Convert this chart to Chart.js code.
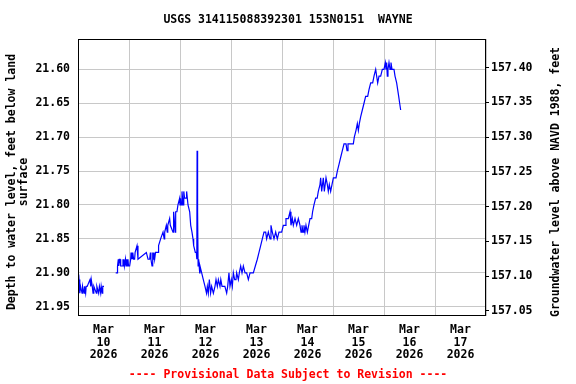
<!DOCTYPE html>
<html><head><meta charset="utf-8">
<script src="https://cdn.jsdelivr.net/npm/chart.js@4.4.1/dist/chart.umd.min.js"></script>
<style>html,body{margin:0;padding:0;background:#fff}canvas{display:block}</style>
</head><body>
<canvas id="c" width="576" height="384"></canvas>
<script>
const titleText = 'USGS 314115088392301 153N0151  WAYNE';
const footerText = '---- Provisional Data Subject to Revision ----';
const leftAxisTitle = ['Depth to water level, feet below land', 'surface'];
const rightAxisTitle = 'Groundwater level above NAVD 1988, feet';
const monthLabel = 'Mar';
const yearLabel = '2026';
const dayLabels = ['10', '11', '12', '13', '14', '15', '16', '17'];
const depthTicks = [21.60, 21.65, 21.70, 21.75, 21.80, 21.85, 21.90, 21.95];
const elevTicks = [157.05, 157.10, 157.15, 157.20, 157.25, 157.30, 157.35, 157.40];

// time in days since Mar 10 2026 00:00, depth in feet below land surface (null = gap)
const times = [
  0.00, 0.02, 0.035, 0.05, 0.08, 0.09, 0.12, 0.13, 0.15, 0.16, 0.18, 0.235, 0.25, 0.26, 0.28,
  0.295, 0.31, 0.36, 0.37, 0.405, 0.42, 0.445, 0.455, 0.475, 0.485, 0.51,
  0.62,
  0.739, 0.771, 0.775, 0.79, 0.80, 0.81, 0.824, 0.837, 0.85, 0.863, 0.882, 0.89, 0.90, 0.91,
  0.92, 0.93, 0.94, 0.95, 0.96, 0.97, 0.98, 0.99, 1.013, 1.033, 1.04, 1.05, 1.06, 1.07, 1.078,
  1.09, 1.11, 1.12, 1.157, 1.176, 1.34, 1.373, 1.405, 1.42, 1.43, 1.451, 1.46, 1.47, 1.48, 1.49,
  1.503, 1.52, 1.569, 1.58, 1.62, 1.667, 1.69, 1.70, 1.732, 1.75, 1.76, 1.797, 1.81, 1.863,
  1.87, 1.88, 1.908, 1.915, 1.94, 1.96, 1.993, 2.00, 2.01, 2.02, 2.039, 2.05, 2.06, 2.07, 2.078,
  2.09, 2.124, 2.13, 2.157, 2.19, 2.21, 2.235, 2.255, 2.268, 2.30, 2.32, 2.330, 2.335, 2.340,
  2.350, 2.355, 2.366, 2.386, 2.392, 2.425, 2.457, 2.49, 2.52, 2.536, 2.555, 2.575, 2.60, 2.62,
  2.654, 2.686, 2.706, 2.732, 2.752, 2.784, 2.80, 2.824, 2.85, 2.88, 2.915, 2.935, 2.96, 2.98,
  3.006, 3.026, 3.046, 3.072, 3.098, 3.111, 3.144, 3.163, 3.19, 3.216, 3.242, 3.275, 3.307, 3.34,
  3.373, 3.438, 3.477, 3.516, 3.549, 3.582, 3.614, 3.647, 3.68, 3.699, 3.732, 3.765, 3.784, 3.81,
  3.843, 3.876, 3.908, 3.941, 3.993, 4.026, 4.059, 4.078, 4.124, 4.157, 4.176, 4.203, 4.222,
  4.255, 4.288, 4.32, 4.353, 4.373, 4.392, 4.412, 4.431, 4.45, 4.47, 4.497, 4.523, 4.549, 4.582,
  4.60, 4.627, 4.66, 4.69, 4.712, 4.745, 4.758, 4.778, 4.81, 4.83, 4.863, 4.889, 4.908, 4.928,
  4.954, 4.98, 5.007, 5.059, 5.085, 5.118, 5.15, 5.183, 5.216, 5.255, 5.275, 5.294, 5.399, 5.418,
  5.451, 5.477, 5.497, 5.516, 5.542, 5.575, 5.608, 5.64, 5.68, 5.706, 5.739, 5.778, 5.804, 5.837,
  5.856, 5.876, 5.902, 5.935, 5.967, 6.0, 6.026, 6.039, 6.052, 6.065, 6.078, 6.098, 6.118, 6.137,
  6.157, 6.196, 6.216, 6.248, 6.268, 6.288, 6.307, 6.327
];
const depths = [
  21.92, 21.91, 21.93, 21.92, 21.93, 21.92, 21.93, 21.92, 21.93, 21.92, 21.92, 21.91, 21.92, 21.91, 21.92,
  21.93, 21.92, 21.93, 21.92, 21.93, 21.92, 21.93, 21.92, 21.93, 21.92, 21.92,
  null,
  21.90, 21.90, 21.89, 21.88, 21.89, 21.88, 21.88, 21.89, 21.89, 21.89, 21.88, 21.89, 21.88, 21.89,
  21.89, 21.88, 21.89, 21.89, 21.88, 21.89, 21.88, 21.89, 21.89, 21.88, 21.87, 21.88, 21.87, 21.88, 21.87,
  21.88, 21.88, 21.87, 21.86, 21.88, 21.87, 21.88, 21.88, 21.87, 21.88, 21.89, 21.88, 21.87, 21.88, 21.87,
  21.88, 21.87, 21.87, 21.86, 21.85, 21.84, 21.85, 21.84, 21.83, 21.84, 21.83, 21.82, 21.83, 21.84,
  21.82, 21.81, 21.84, 21.81, 21.81, 21.80, 21.79, 21.80, 21.79, 21.80, 21.78, 21.79, 21.80, 21.79, 21.78,
  21.79, 21.79, 21.78, 21.80, 21.81, 21.83, 21.84, 21.85, 21.86, 21.87, 21.87, 21.88, 21.72, 21.88,
  21.81, 21.89, 21.88, 21.90, 21.89, 21.90, 21.91, 21.92, 21.93, 21.92, 21.93, 21.91, 21.93, 21.92,
  21.93, 21.92, 21.91, 21.92, 21.91, 21.92, 21.91, 21.92, 21.92, 21.92, 21.93, 21.92, 21.90, 21.92,
  21.91, 21.92, 21.90, 21.91, 21.91, 21.90, 21.91, 21.90, 21.89, 21.90, 21.89, 21.90, 21.90, 21.91,
  21.90, 21.90, 21.89, 21.88, 21.87, 21.86, 21.85, 21.84, 21.84, 21.85, 21.84, 21.85, 21.83, 21.84,
  21.85, 21.84, 21.85, 21.84, 21.84, 21.83, 21.83, 21.82, 21.82, 21.81, 21.83, 21.82, 21.83,
  21.82, 21.83, 21.82, 21.83, 21.84, 21.83, 21.84, 21.83, 21.84, 21.83, 21.84, 21.83, 21.82, 21.82,
  21.81, 21.80, 21.79, 21.79, 21.78, 21.77, 21.76, 21.78, 21.76, 21.78, 21.76, 21.77, 21.78, 21.77,
  21.78, 21.77, 21.76, 21.76, 21.75, 21.74, 21.73, 21.72, 21.71, 21.71, 21.72, 21.71, 21.71, 21.70,
  21.69, 21.68, 21.69, 21.68, 21.67, 21.66, 21.65, 21.64, 21.64, 21.63, 21.62, 21.62, 21.61, 21.60,
  21.61, 21.62, 21.61, 21.61, 21.60, 21.60, 21.59, 21.60, 21.59, 21.61, 21.60, 21.59, 21.60, 21.59,
  21.60, 21.60, 21.61, 21.62, 21.63, 21.64, 21.65, 21.66
];

const FONT = 'DejaVu Sans Mono';
const points = times.map((t, i) => ({ x: t, y: depths[i] }));

const framePlugin = {
  id: 'frame',
  afterDraw(chart) {
    const { ctx, chartArea: a } = chart;
    ctx.save();
    ctx.strokeStyle = '#000';
    ctx.lineWidth = 1;
    ctx.strokeRect(Math.round(a.left) + 0.5, Math.round(a.top) + 0.5,
      Math.round(a.right - a.left) - 1, Math.round(a.bottom - a.top) - 1);
    ctx.fillStyle = '#000';
    ctx.font = 'bold 11.5px "' + FONT + '"';
    ctx.textAlign = 'center';
    ctx.textBaseline = 'middle';
    // left axis title (two lines)
    ctx.save();
    ctx.translate(12, 182);
    ctx.rotate(-Math.PI / 2);
    ctx.fillText(leftAxisTitle[0], 0, 0);
    ctx.fillText(leftAxisTitle[1], 0, 12);
    ctx.restore();
    // right axis title
    ctx.translate(556, 182);
    ctx.rotate(-Math.PI / 2);
    ctx.fillText(rightAxisTitle, 0, 0);
    ctx.restore();
  }
};

new Chart(document.getElementById('c'), {
  type: 'line',
  data: {
    datasets: [{
      data: points,
      borderColor: '#0000ff',
      borderWidth: 1.2,
      pointRadius: 0,
      fill: false,
      spanGaps: false,
      tension: 0,
      yAxisID: 'y'
    }]
  },
  options: {
    responsive: false,
    animation: false,
    events: [],
    layout: { padding: 0 },
    plugins: {
      legend: { display: false },
      tooltip: { enabled: false },
      title: {
        display: true, text: titleText, color: '#000',
        font: { family: FONT, size: 11.5, weight: 'bold', lineHeight: '14px' },
        padding: { top: 13, bottom: 12 }
      },
      subtitle: {
        display: true, position: 'bottom', text: footerText, color: '#ff0000',
        font: { family: FONT, size: 11.5, weight: 'bold', lineHeight: '14px' },
        padding: { top: 4, bottom: 2 }
      }
    },
    scales: {
      x: {
        type: 'linear', position: 'bottom', min: 0, max: 8,
        afterBuildTicks: s => { s.ticks = dayLabels.map((d, i) => ({ value: i + 0.5 })); },
        afterFit: s => { s.height = 48; },
        grid: { display: true, offset: true, color: '#c8c8c8', lineWidth: 1, drawTicks: false },
        border: { display: false },
        ticks: {
          autoSkip: false, maxRotation: 0, minRotation: 0, padding: 8, color: '#000',
          font: { family: FONT, size: 11.5, weight: 'bold', lineHeight: '12.5px' },
          callback: v => [monthLabel, dayLabels[Math.floor(v)], yearLabel]
        }
      },
      y: {
        type: 'linear', position: 'left', reverse: true, min: 21.5553, max: 21.9637,
        afterBuildTicks: s => { s.ticks = depthTicks.map(v => ({ value: v })); },
        afterFit: s => { s.width = 78; },
        grid: { color: '#c8c8c8', lineWidth: 1, drawTicks: false },
        border: { display: false },
        ticks: {
          padding: 8, color: '#000',
          font: { family: FONT, size: 11.5, weight: 'bold' },
          callback: v => Number(v).toFixed(2)
        }
      },
      y2: {
        type: 'linear', position: 'right', min: 157.0428, max: 157.4413,
        afterBuildTicks: s => { s.ticks = elevTicks.map(v => ({ value: v })); },
        afterFit: s => { s.width = 90; },
        grid: { drawOnChartArea: false, drawTicks: true, tickLength: 3, color: '#000' },
        border: { display: false },
        ticks: {
          padding: 2, color: '#000',
          font: { family: FONT, size: 11.5, weight: 'bold' },
          callback: v => Number(v).toFixed(2)
        }
      }
    }
  },
  plugins: [framePlugin]
});
</script>
</body></html>
